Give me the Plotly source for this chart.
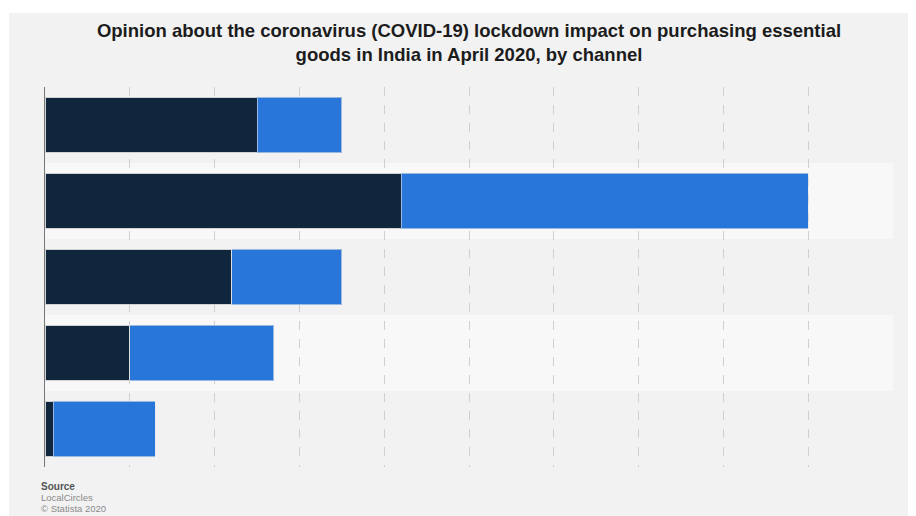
import plotly.graph_objects as go

categories = ["Kirana stores", "Online grocery platforms", "Supermarkets", "Local vendors", "Pharmacies"]
series_names = ["Major impact", "Some impact"]
major_impact = [25, 42, 22, 10, 1]
some_impact = [10, 48, 13, 17, 12]
x_ticks = [0, 10, 20, 30, 40, 50, 60, 70, 80, 90, 100]

# page has an 8px body margin; figure coordinates are offset by it
W, H = 916, 516
L, R, T, B = 37, 31, 79, 57
PW, PH = W - L - R, H - T - B


def px_x(x):
    return (x - L) / PW


def px_y(y):
    return (H - B - y) / PH


fig = go.Figure()
fig.add_trace(go.Bar(
    y=categories, x=major_impact, name=series_names[0], orientation="h",
    marker=dict(color="#10263d", line=dict(color="rgba(230,230,230,0.9)", width=1)),
))
fig.add_trace(go.Bar(
    y=categories, x=some_impact, name=series_names[1], orientation="h",
    marker=dict(color="#2876da", line=dict(color="rgba(230,230,230,0.6)", width=1)),
))

shapes = [
    dict(type="rect", xref="paper", yref="paper",
         x0=px_x(1), x1=px_x(W), y0=px_y(H), y1=px_y(5),
         fillcolor="#f2f2f2", line=dict(width=0), layer="below"),
]
for i, c in enumerate(categories):
    if i % 2 == 1:
        shapes.append(dict(type="rect", xref="paper", yref="y",
                           x0=0, x1=1, y0=i - 0.5, y1=i + 0.5,
                           fillcolor="#f8f8f8", line=dict(width=0), layer="below"))

src_font = dict(family="Liberation Sans, Arial", size=9.5, color="#8a8a8a")

fig.update_layout(
    width=W, height=H,
    margin=dict(l=L, r=R, t=T, b=B),
    paper_bgcolor="white",
    plot_bgcolor="rgba(0,0,0,0)",
    barmode="stack",
    bargap=0.27,
    showlegend=False,
    shapes=shapes,
    title=dict(
        text="<b>Opinion about the coronavirus (COVID-19) lockdown impact on purchasing essential<br>goods in India in April 2020, by channel</b>",
        x=0.5, xref="paper", xanchor="center", y=1 - 29 / H, yanchor="middle",
        font=dict(family="Liberation Sans, Arial", size=18.5, color="#1c1c1c"),
    ),
    xaxis=dict(
        range=[0, 100], tickvals=x_ticks, showticklabels=False,
        showgrid=True, gridcolor="#d0d0d0", griddash="dash", gridwidth=1,
        zeroline=False, showline=False, fixedrange=True,
    ),
    yaxis=dict(
        autorange="reversed", showticklabels=False, showgrid=False,
        showline=True, linecolor="#777777", linewidth=1, zeroline=False,
    ),
    annotations=[
        dict(text="<b>Source</b>", xref="paper", yref="paper",
             x=px_x(31), y=px_y(478), xanchor="left", yanchor="middle", showarrow=False,
             font=dict(family="Liberation Sans, Arial", size=10, color="#555555")),
        dict(text="LocalCircles", xref="paper", yref="paper",
             x=px_x(31), y=px_y(489), xanchor="left", yanchor="middle", showarrow=False,
             font=src_font),
        dict(text="© Statista 2020", xref="paper", yref="paper",
             x=px_x(31), y=px_y(500), xanchor="left", yanchor="middle", showarrow=False,
             font=src_font),
    ],
)

fig.write_html("out.html")
